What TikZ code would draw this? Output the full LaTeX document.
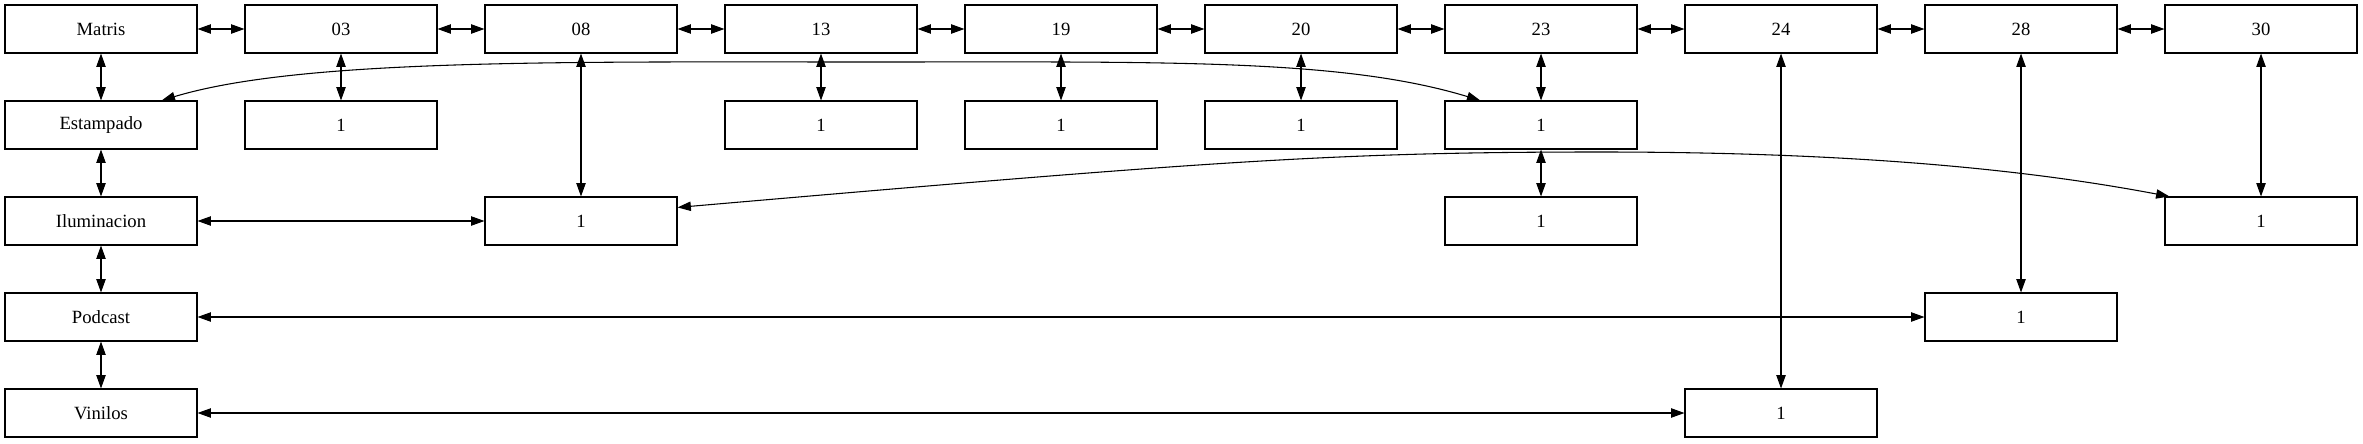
\documentclass[tikz,border=0pt]{standalone}
\usepackage{fontspec}
\setmainfont{Liberation Serif}
\usetikzlibrary{arrows.meta}

\begin{document}
\begin{tikzpicture}[x=180pt, y=-72pt,
    block/.style={rectangle, draw, line width=0.8pt, minimum width=144pt, minimum height=36pt, inner sep=0pt, font=\fontsize{14}{16}\selectfont},
    link/.style={{Triangle[length=10pt,width=7pt]}-{Triangle[length=10pt,width=7pt]}, line width=0.8pt}]

\useasboundingbox (-75.75pt,21.75pt) rectangle (1696.5pt,-310.5pt);

% Top row of boxes
\foreach \lbl [count=\i from 0] in {Matris,03,08,13,19,20,23,24,28,30} {
    \node[block] (n\lbl) at (\i,0) {\lbl};
}

% Left column of boxes
\foreach \lbl [count=\j from 1] in {Estampado,Iluminacion,Podcast,Vinilos} {
    \node[block] (n\lbl) at (0,\j) {\lbl};
}

% Heres the cells
\foreach \name/\col/\row in {e03/1/1, e13/3/1, e19/4/1, e20/5/1, e23/6/1, i08/2/2, i23/6/2, i30/9/2, p28/8/3, v24/7/4} {
    \node[block] (\name) at (\col,\row) {1};
}

% and the links
\foreach \a/\b in {Matris/03, 03/08, 08/13, 13/19, 19/20, 20/23, 23/24, 24/28, 28/30, Matris/Estampado, Estampado/Iluminacion, Iluminacion/Podcast, Podcast/Vinilos} {
    \draw[link] (n\a) -- (n\b);
}
\foreach \a/\b in {n03/e03, n13/e13, n19/e19, n20/e20, n23/e23, e23/i23, n08/i08, nIluminacion/i08, n24/v24, nVinilos/v24, n28/p28, nPodcast/p28, n30/i30} {
    \draw[link] (\a) -- (\b);
}

% the two curved ones
\draw[link] (nEstampado.22) .. controls (150pt,-22pt) and (350pt,-24.75pt) .. (574.25pt,-24.75pt) .. controls (798.5pt,-24.75pt) and (930.45pt,-22pt) .. (e23.158);
\draw[link] (i08.8) .. controls (832.25pt,-99.25pt) and (924.25pt,-92.25pt) .. (1124.25pt,-92.25pt) .. controls (1324.25pt,-92.25pt) and (1452.25pt,-106.85pt) .. (i30.165);
\end{tikzpicture}
\end{document}
